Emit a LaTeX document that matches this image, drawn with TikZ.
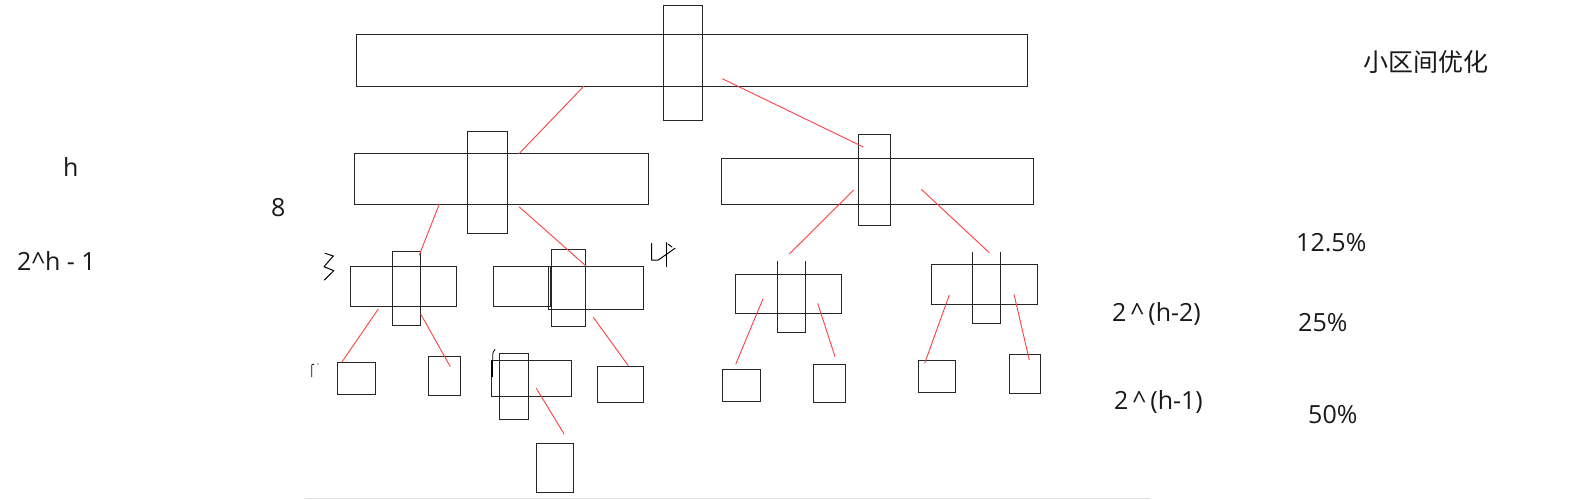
\documentclass[tikz,border=0pt]{standalone}
\usepackage{fontspec}
\newfontfamily\osans{Open Sans}
\newfontfamily\cjk{Noto Sans CJK SC}
\usetikzlibrary{fit}
\tikzset{
  box/.style={draw=black!85, line width=1pt, inner sep=0pt, fill=none},
  link/.style={draw=red!75, line width=0.9pt},
  lbl/.style={font=\osans\fontsize{25}{30}\selectfont, inner sep=0pt, anchor=base west, text=black!90},
  scrib/.style={draw=black, line width=1pt, line join=round, line cap=round},
}
\begin{document}
\begin{tikzpicture}[x=1pt,y=-1pt]
\useasboundingbox (0,0) rectangle (1593,499);
% level 0
\node[box, fit={(356.7,34.7) (1027.7,86.3)}] (r0) {};
\node[box, fit={(663.3,5.7) (702,120.7)}] (v0) {};
% level 1
\node[box, fit={(354.7,153.7) (648.7,204)}] (r1a) {};
\node[box, fit={(467,131.3) (507.3,233.3)}] (v1a) {};
\node[box, fit={(721.3,158.3) (1033.3,204)}] (r1b) {};
\node[box, fit={(858.3,134) (890.3,225.7)}] (v1b) {};
% level 2
\node[box, fit={(350.7,266.7) (456.7,306.3)}] (r2a) {};
\node[box, fit={(392,251) (420.3,325)}] (v2a) {};
\node[box, fit={(493.3,266.7) (550,306.3)}] (r2b1) {};
\node[box, fit={(548.3,266.7) (643.3,309)}] (r2b2) {};
\node[box, fit={(551,249) (585,326)}] (v2b) {};
\node[box, fit={(735.7,274.3) (841.3,313.3)}] (r2c) {};
\draw[box] (777,261) -- (777,332.3) -- (805,332.3) -- (805,261);
\node[box, fit={(931.3,264.7) (1037.3,304)}] (r2d) {};
\draw[box] (972.7,251.7) -- (972.7,323) -- (1000.3,323) -- (1000.3,251.7);
% level 3
\node[box, fit={(337.7,362.3) (375.3,394.3)}] (q1) {};
\node[box, fit={(428.7,356.7) (460.3,395)}] (q2) {};
\node[box, fit={(491.3,360.3) (571,396)}] (q3) {};
\node[box, fit={(499.3,353) (528,419.3)}] (v3) {};
\node[box, fit={(597,366) (643.3,402.7)}] (q4) {};
\node[box, fit={(722.3,369.7) (760,401.7)}] (q5) {};
\node[box, fit={(813.3,364.3) (845.3,402.3)}] (q6) {};
\node[box, fit={(918,360.3) (955.7,392.3)}] (q7) {};
\node[box, fit={(1009,354.7) (1040.7,393.3)}] (q8) {};
\node[box, fit={(536.3,443.7) (573.7,492.3)}] (q9) {};
% connector end points
\coordinate (a1) at (584.3,85.7);  \coordinate (b1) at (519,153.7);
\coordinate (a2) at (722.3,78.7);  \coordinate (b2) at (863.3,147);
\coordinate (a3) at (439.3,204);   \coordinate (b3) at (419.3,255);
\coordinate (a4) at (519,206.7);   \coordinate (b4) at (586,266);
\coordinate (a5) at (853.7,190);   \coordinate (b5) at (789.3,254);
\coordinate (a6) at (921.3,189.3); \coordinate (b6) at (989.3,252.7);
\coordinate (a7) at (378.3,309);   \coordinate (b7) at (341.7,362.3);
\coordinate (a8) at (420.7,314);   \coordinate (b8) at (450.3,366.7);
\coordinate (a9) at (593.3,317.3); \coordinate (b9) at (628.3,365.7);
\coordinate (a10) at (536.3,388.3); \coordinate (b10) at (564.3,434.3);
\coordinate (a11) at (763,298.7);  \coordinate (b11) at (735.7,364.3);
\coordinate (a12) at (817.7,303.3); \coordinate (b12) at (835,356.7);
\coordinate (a13) at (949.3,295);  \coordinate (b13) at (924.7,363.3);
\coordinate (a14) at (1014,294.3); \coordinate (b14) at (1029.3,360);
\foreach \i in {1,...,14} { \draw[link] (a\i) -- (b\i); }
% handwritten marks
\draw[scrib] (325,253.3) -- (333.3,256) -- (324,266.7) -- (333.8,270.7) -- (324.3,280);
\draw[scrib] (651.7,243.3) -- (651.7,260) -- (658.3,260) -- (675,248.3);
\draw[scrib] (666.7,242.7) -- (666.7,266.7);
\draw[scrib] (668,244) -- (672,247);
\draw[scrib, line width=0.8pt] (311.7,376.7) -- (311.7,365) -- (314,364);
\fill[black] (318,364) circle (0.6);
\draw[scrib, line width=0.8pt] (495,349.3) .. controls (492.7,352) .. (492.7,360);
\draw[black, line width=2.2pt] (492.3,360) -- (492.3,377);
\draw[black!12, line width=0.8pt] (305,498.5) -- (1150,498.5);
% texts
\node[lbl] (t0) at (63,176) {h};
\node[lbl] (t1) at (271,216) {8};
\node[lbl] (t2) at (17,270) {2\^{}h - 1};
\node[lbl] (t3) at (1296,251.7) {12.5\%};
\node[lbl] (t4) at (1112,321.7) {2\,\^{}\,(h-2)};
\node[lbl] (t5) at (1298,331.7) {25\%};
\node[lbl] (t6) at (1114,409.3) {2\,\^{}\,(h-1)};
\node[lbl] (t7) at (1308,423.3) {50\%};
\node[font=\cjk\fontsize{25}{29}\selectfont, inner sep=0pt, text=black!90] (title) at (1426,62) {小区间优化};
\end{tikzpicture}
\end{document}
